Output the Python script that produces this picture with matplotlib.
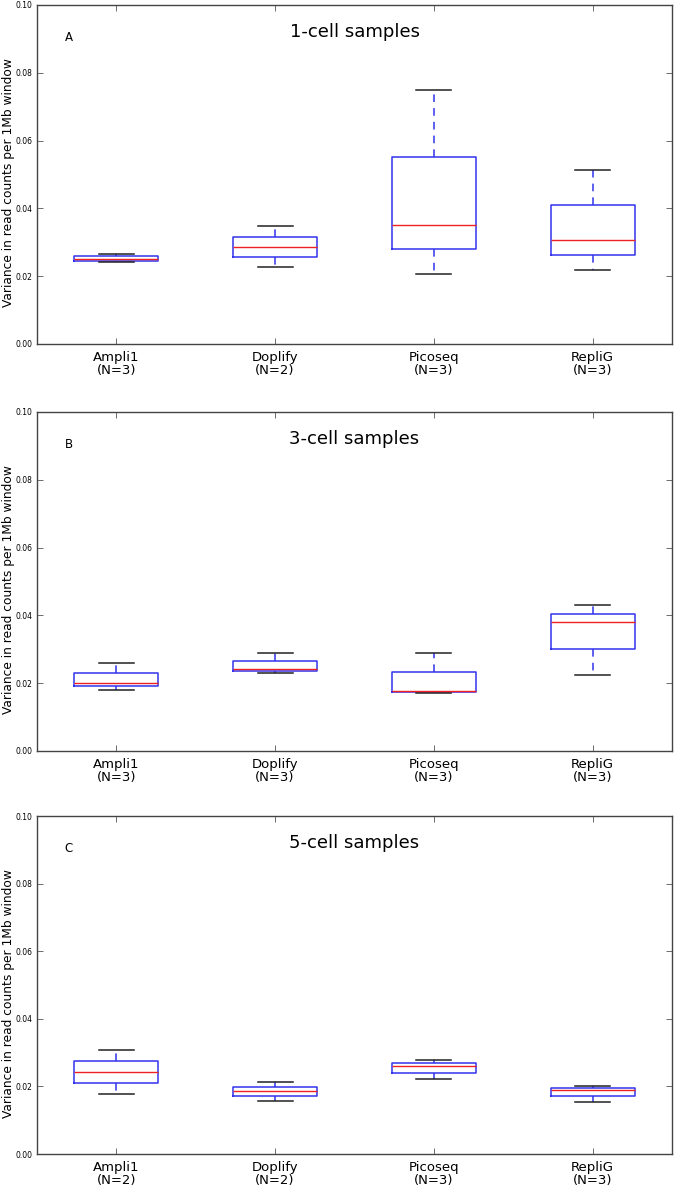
import matplotlib
matplotlib.use("Agg")
import matplotlib.pyplot as plt

methods = ["Ampli1", "Doplify", "Picoseq", "RepliG"]
panel_letters = ["A", "B", "C"]
panel_titles = ["1-cell samples", "3-cell samples", "5-cell samples"]

# raw per-sample variances
one_cell = [
    [0.0241, 0.0251, 0.0266],
    [0.0226, 0.0347],
    [0.0207, 0.0352, 0.0750],
    [0.0217, 0.0307, 0.0513],
]
three_cell = [
    [0.0179, 0.0202, 0.0261],
    [0.0230, 0.0243, 0.0289],
    [0.0172, 0.0177, 0.0290],
    [0.0223, 0.0380, 0.0431],
]
five_cell = [
    [0.0177, 0.0307],
    [0.0158, 0.0213],
    [0.0221, 0.0261, 0.0277],
    [0.0153, 0.0190, 0.0201],
]
panels = [one_cell, three_cell, five_cell]

yticks = [0.00, 0.02, 0.04, 0.06, 0.08, 0.10]
ylabel = "Variance in read counts per 1Mb window"

W, H = 675, 1185
fig = plt.figure(figsize=(W / 100, H / 100), dpi=100)

# axes boxes in pixels: (left, top, right, bottom)
boxes_px = [(37, 5, 672, 344), (37, 412, 672, 751), (37, 816, 672, 1154)]

for (l, t, r, b), data, letter, title in zip(boxes_px, panels, panel_letters, panel_titles):
    ax = fig.add_axes([l / W, 1 - b / H, (r - l) / W, (b - t) / H])
    ax.boxplot(
        data, positions=[1, 2, 3, 4], widths=0.53, capwidths=0.22,
        whis=(0, 100), showfliers=False, patch_artist=False,
        boxprops=dict(color="#3333ee", linewidth=1.1),
        medianprops=dict(color="#ee2222", linewidth=1.0),
        whiskerprops=dict(color="#3333ee", linewidth=1.1, linestyle=(0, (5, 4))),
        capprops=dict(color="#222222", linewidth=1.1),
    )
    ax.set_xlim(0.5, 4.5)
    ax.set_ylim(0, 0.10)
    ax.set_yticks(yticks)
    ax.set_yticklabels([f"{v:.2f}" for v in yticks], fontsize=5.5)
    labels = [f"{m}\n(N={len(d)})" for m, d in zip(methods, data)]
    ax.set_xticks([1, 2, 3, 4])
    ax.set_xticklabels(labels, fontsize=9.5, linespacing=1.0)
    ax.tick_params(direction="in", top=True, right=True, length=4, width=0.6, color="#555555", pad=3)
    ax.tick_params(axis="x", pad=5)
    for s in ax.spines.values():
        s.set_color("#444444")
        s.set_linewidth(1.0)
    ax.set_ylabel(ylabel, fontsize=8.8)
    ax.yaxis.set_label_coords(-22 / (r - l), 0.475)
    ax.text(0.5, 0.92, title, transform=ax.transAxes, ha="center", va="center", fontsize=13)
    ax.text(0.05, 0.903, letter, transform=ax.transAxes, ha="center", va="center", fontsize=8.5)

fig.savefig("out.png", dpi=100)
